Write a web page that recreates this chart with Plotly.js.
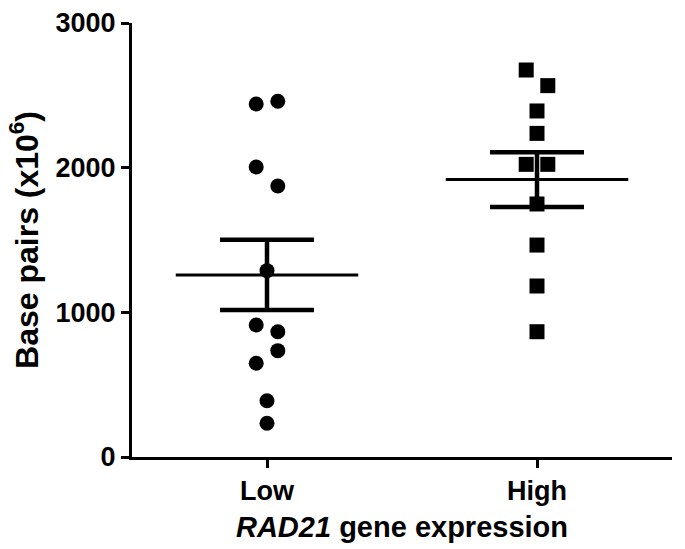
<!DOCTYPE html>
<html>
<head>
<meta charset="utf-8">
<script src="https://cdn.plot.ly/plotly-3.0.1.min.js"></script>
<style>html,body{margin:0;padding:0;background:#fff;}#chart{width:685px;height:549px;}</style>
</head>
<body>
<div id="chart"></div>
<script>
// Data
const categories = ["Low", "High"];
const lowValues  = [2440, 2459, 2005, 1873, 1288, 912, 866, 735, 648, 389, 233];
const lowJitter  = [-0.04, 0.04, -0.04, 0.04, 0, -0.04, 0.04, 0.04, -0.04, 0, 0];
const highValues = [2675, 2567, 2392, 2237, 2023, 2023, 1749, 1465, 1182, 866];
const highJitter = [-0.04, 0.04, 0, 0, -0.04, 0.04, 0, 0, 0, 0];

function mean(a){ return a.reduce((s,v)=>s+v,0)/a.length; }
function sem(a){
  const m = mean(a);
  const sd = Math.sqrt(a.reduce((s,v)=>s+(v-m)*(v-m),0)/(a.length-1));
  return sd/Math.sqrt(a.length);
}

const groups = [
  {vals: lowValues, jit: lowJitter, symbol: "circle"},
  {vals: highValues, jit: highJitter, symbol: "square"}
];

const meanHalf = 0.338, capHalf = 0.174;
const traces = [];
groups.forEach((g, i) => {
  const m = mean(g.vals), s = sem(g.vals);
  // mean line
  traces.push({x:[i-meanHalf, i+meanHalf], y:[m, m], mode:"lines",
    line:{color:"#000", width:3}, hoverinfo:"skip", showlegend:false});
  // SEM bar + caps
  traces.push({x:[i, i, null, i-capHalf, i+capHalf, null, i-capHalf, i+capHalf],
    y:[m-s, m+s, null, m+s, m+s, null, m-s, m-s], mode:"lines",
    line:{color:"#000", width:4.5}, hoverinfo:"skip", showlegend:false});
  // points
  traces.push({x:g.vals.map((v,k)=>i+g.jit[k]), y:g.vals, mode:"markers",
    marker:{symbol:g.symbol, size:15, color:"#000", line:{width:0}}, showlegend:false});
});

const font = {family:"Liberation Sans, Arial, sans-serif", color:"#000", weight:"bold"};
const layout = {
  width:685, height:549,
  margin:{l:132, r:13, t:23, b:92},
  paper_bgcolor:"#fff", plot_bgcolor:"#fff",
  showlegend:false,
  xaxis:{
    range:[-0.5, 1.5], tickvals:[0,1], ticktext:categories,
    showgrid:false, zeroline:false, showline:true, linecolor:"#000", linewidth:3,
    ticks:"outside", ticklen:8, tickwidth:3, tickcolor:"#000",
    tickfont:Object.assign({size:27}, font),
    title:{text:"<i>RAD21</i> gene expression", font:Object.assign({size:29}, font), standoff:12}
  },
  yaxis:{
    range:[0, 3000], tickvals:[0,1000,2000,3000],
    showgrid:false, zeroline:false, showline:true, linecolor:"#000", linewidth:3,
    ticks:"outside", ticklen:8, tickwidth:3, tickcolor:"#000",
    tickfont:Object.assign({size:27}, font),
    title:{text:"Base pairs (x10<sup>6</sup>)", font:Object.assign({size:32}, font), standoff:8}
  }
};

Plotly.newPlot("chart", traces, layout, {staticPlot:true, displayModeBar:false});
</script>
</body>
</html>
